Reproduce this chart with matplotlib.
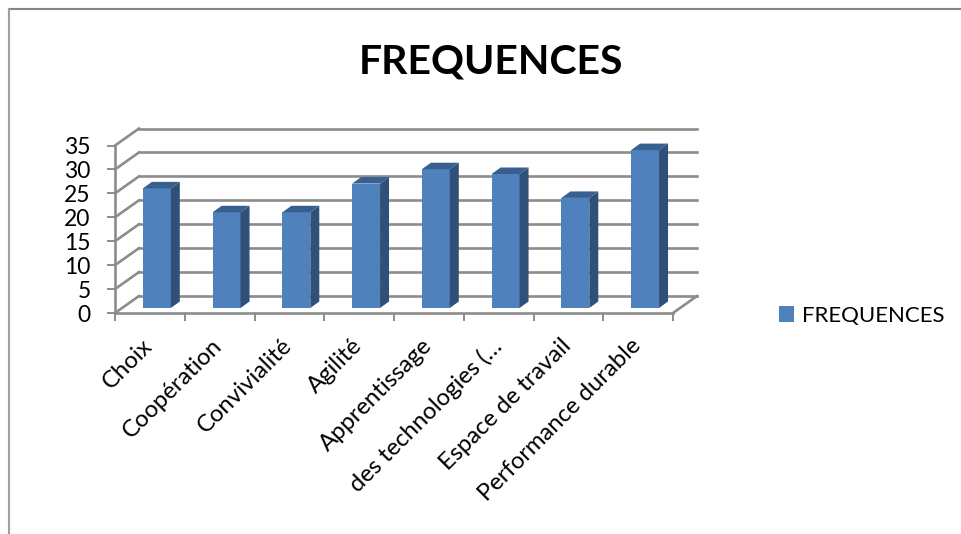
import matplotlib
matplotlib.use("Agg")
import matplotlib.pyplot as plt
from matplotlib.lines import Line2D
from matplotlib.patches import Polygon
from matplotlib.transforms import ScaledTranslation

categories = ["Choix", "Coopération", "Convivialité", "Agilité", "Apprentissage",
              "des technologies (…", "Espace de travail", "Performance durable"]
values = [25, 20, 20, 26, 29, 28, 23, 33]
yticks = [0, 5, 10, 15, 20, 25, 30, 35]
series_name = "FREQUENCES"

W, H = 961, 534
grey = "#8c8c8c"
front = "#4f81bd"
side = "#2f5078"
top = "#38608f"

plt.rcParams["font.family"] = ["Lato", "DejaVu Sans"]

fig = plt.figure(figsize=(W / 100, H / 100), dpi=100)
# axes = the front plane of the fake 3d box
ax = fig.add_axes([115 / W, 1 - 313 / H, 558 / W, 167.5 / H])
ax.set_xlim(0, 8)
ax.set_ylim(0, 35)
ax.patch.set_visible(False)
for s in ax.spines.values():
    s.set_visible(False)

# depth of box and of bars, in data units
dx = 24 / 69.75
dy = 17 / 4.786
bar_w = 0.4
bar_dx = 9 / 69.75
bar_dy = 6.5 / 4.786
base = 5 / 4.786

for v in yticks:
    ax.plot([0, dx], [v, v + dy], color=grey, lw=1.9, clip_on=False, zorder=1)
    ax.plot([dx, 8 + dx], [v + dy, v + dy], color=grey, lw=1.9, clip_on=False, zorder=1)
ax.plot([8, 8 + dx], [0, dy], color=grey, lw=1.9, clip_on=False, zorder=1)
ax.plot([0, 8], [0, 0], color=grey, lw=1.9, clip_on=False, zorder=2)
ax.plot([0, 0], [0, 35], color=grey, lw=1.9, clip_on=False, zorder=2)

for i, v in enumerate(values):
    x0 = i + 0.4
    x1 = x0 + bar_w
    t = base + v
    ax.bar(x0, v, width=bar_w, bottom=base, align="edge", color=front, zorder=3)
    ax.add_patch(Polygon([(x1, base), (x1 + bar_dx, base + bar_dy), (x1 + bar_dx, t + bar_dy), (x1, t)],
                         closed=True, color=side, lw=0, zorder=3, clip_on=False))
    ax.add_patch(Polygon([(x0, t), (x1, t), (x1 + bar_dx, t + bar_dy), (x0 + bar_dx, t + bar_dy)],
                         closed=True, color=top, lw=0, zorder=3, clip_on=False))

ax.set_yticks(yticks)
ax.set_yticklabels([str(v) for v in yticks], fontsize=16.5, color="black")
ax.tick_params(axis="y", length=5.5, width=1.4, color=grey, pad=12)

ax.set_xticks(range(9))
ax.set_xticklabels([])
ax.tick_params(axis="x", which="major", length=5.5, width=1.4, color=grey)
ax.set_xticks([i + 0.5 for i in range(8)], minor=True)
ax.set_xticklabels(categories, minor=True, rotation=45, ha="right", va="top",
                   rotation_mode="anchor", fontsize=17.2, color="black")
ax.tick_params(axis="x", which="minor", length=0, pad=16)
# labels sit a bit left of the category centre
shift = ScaledTranslation(-8 / 100, 0, fig.dpi_scale_trans)
for lab in ax.get_xticklabels(minor=True):
    lab.set_transform(lab.get_transform() + shift)

fig.text(491 / W, 1 - 62 / H, "FREQUENCES", ha="center", va="center",
         fontsize=29.5, fontweight="bold", color="black")

# legend
handle = Polygon([(0, 0), (1, 0), (1, 1), (0, 1)], color=front, lw=0)
fig.legend([handle], [series_name], loc="center left", bbox_to_anchor=(759 / W, 1 - 316 / H),
           frameon=False, fontsize=16, handlelength=0.68, handleheight=0.7, handletextpad=0.36)

# outer frame of the chart, cropped at right and bottom
fig.add_artist(Line2D([9 / W, 1], [1 - 9 / H, 1 - 9 / H], color="#868686", lw=1.5))
fig.add_artist(Line2D([9 / W, 9 / W], [1 - 9 / H, 0], color="#a0a0a0", lw=1.5))

fig.savefig("out.png", dpi=100)
